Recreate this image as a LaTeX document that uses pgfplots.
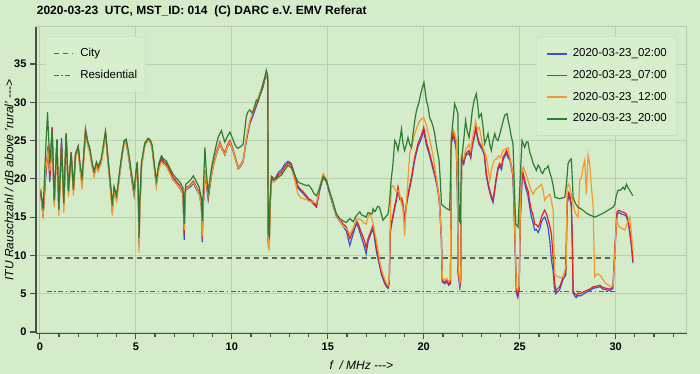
\documentclass[border=0pt]{standalone}
\usepackage{fontspec}
\setmainfont{Liberation Sans}
\usepackage{pgfplots}
\pgfplotsset{compat=1.18}
\definecolor{bg}{HTML}{D4ECC9}
\definecolor{gridc}{HTML}{B9D1B3}
\definecolor{lightspine}{HTML}{B4CBAE}
\definecolor{spine}{HTML}{4A4F4A}
\definecolor{refc}{HTML}{5A645A}
\definecolor{legbg}{HTML}{D8EFCE}
\definecolor{legdraw}{HTML}{C0D8B9}
\definecolor{cblue}{RGB}{60,80,215}
\definecolor{cred}{RGB}{232,32,32}
\definecolor{corange}{RGB}{242,154,46}
\definecolor{cgreen}{RGB}{47,125,50}
\begin{document}
\begin{tikzpicture}
\path[use as bounding box, fill=bg] (-36pt,-40.7pt) rectangle (664pt,333.3pt);
\pgfplotsset{base/.style={scale only axis, width=650.7pt, height=306.6pt,
  xmin=-0.2, xmax=33.7, ymin=-0.17, ymax=39.87,
  xtick={0,5,...,30}, ytick={0,5,...,35}}}
\begin{axis}[base,
  axis line style={draw=lightspine, line width=0.8pt},
  grid=major, grid style={draw=gridc, line width=0.8pt},
  xticklabels={}, yticklabels={}, major tick length=0pt,
  legend image code/.code={\draw[#1] (0pt,0pt) -- (19pt,0pt);},
  legend cell align=left,
  legend style={at={(0,1)}, anchor=north west, xshift=9pt, yshift=-10pt,
    fill=legbg, draw=legdraw, rounded corners=2pt,
    font=\fontsize{11.5}{13}\selectfont,
    nodes={inner sep=0pt, text height=8.3pt, text depth=2.4pt},
    row sep=11pt, column sep=7pt, inner xsep=8pt, inner ysep=11.5pt}]
\addplot[refc, line width=1.1pt, dash pattern=on 5pt off 4pt] coordinates {(0.35,9.66) (30,9.66)};
\addlegendentry{City}
\addplot[refc, line width=1.1pt, dash pattern=on 5pt off 2.5pt on 1.5pt off 2.5pt] coordinates {(0.35,5.26) (30,5.26)};
\addlegendentry{Residential}
\end{axis}
\begin{axis}[base,
  axis x line*=bottom, axis y line*=left,
  axis line style={draw=spine, line width=1.4pt},
  tick align=outside, major tick length=6pt, minor tick length=3.5pt,
  tick style={draw=spine, line width=1.2pt},
  minor xtick={1,2,3,4,6,7,8,9,11,12,13,14,16,17,18,19,21,22,23,24,26,27,28,29,31,32,33},
  ticklabel style={font=\bfseries\fontsize{11}{13}\selectfont},
  /pgf/number format/assume math mode=true,
  title={2020-03-23\ \ UTC, MST\_ID: 014\ \ (C) DARC e.V. EMV Referat},
  title style={at={(0,1)}, anchor=base west, xshift=0.7pt, yshift=6pt, inner sep=0pt,
    font=\bfseries\fontsize{12}{14}\selectfont},
  xlabel={f\ \ / MHz -\kern0pt-\kern0pt->},
  ylabel={ITU Rauschzahl / dB above 'rural' -\kern0pt-\kern0pt->},
  every axis x label/.style={at={(rel axis cs:0.5,0)}, anchor=base, yshift=-36pt,
    font=\itshape\fontsize{12}{14}\selectfont},
  every axis y label/.style={at={(rel axis cs:0,0.5)}, xshift=-27pt, rotate=90, anchor=center,
    font=\itshape\fontsize{12}{14}\selectfont},
  legend image code/.code={\draw[#1, line width=1.6pt] (0pt,0pt) -- (20pt,0pt);},
  legend cell align=left,
  legend style={at={(1,1)}, anchor=north east, xshift=-9.7pt, yshift=-10pt,
    fill=legbg, draw=legdraw, rounded corners=2pt,
    font=\fontsize{11.5}{13}\selectfont,
    nodes={inner sep=0pt, text height=8.3pt, text depth=2.4pt},
    row sep=11pt, column sep=5pt, inner xsep=10pt, inner ysep=11.5pt}]
\addplot[cblue, line width=1.2pt] table {
x y
0.05 18.0
0.12 16.3
0.17 15.3
0.3 20.0
0.43 24.0
0.52 19.6
0.64 26.8
0.75 17.0
0.89 25.0
0.99 16.0
1.13 25.3
1.25 16.8
1.37 25.6
1.49 18.4
1.63 23.3
1.75 18.8
1.86 23.0
2.0 24.0
2.1 21.3
2.2 19.5
2.38 26.2
2.5 24.5
2.6 23.6
2.72 21.8
2.83 20.5
2.95 21.8
3.04 21.1
3.2 22.2
3.42 25.8
3.6 21.0
3.73 17.8
3.77 16.0
3.87 18.5
4.0 17.6
4.17 20.8
4.3 23.3
4.4 24.8
4.5 24.6
4.6 23.3
4.69 21.6
4.8 19.6
4.91 17.8
5.0 20.2
5.07 21.8
5.14 16.5
5.17 11.2
5.2 15.5
5.3 21.8
5.47 24.4
5.64 25.0
5.75 24.8
5.85 24.0
5.95 21.8
6.07 19.2
6.2 21.6
6.33 22.5
6.45 22.0
6.6 21.7
6.75 21.0
6.94 19.9
7.1 19.4
7.29 18.8
7.46 18.0
7.52 12.0
7.56 17.2
7.6 18.6
7.75 18.8
7.86 19.0
8.0 19.4
8.16 18.6
8.3 18.0
8.42 16.4
8.46 11.7
8.5 15.5
8.6 20.8
8.77 17.3
8.94 20.4
9.05 21.8
9.2 23.2
9.38 24.5
9.5 23.8
9.64 23.1
9.78 24.2
9.9 24.7
10.05 23.7
10.16 22.8
10.33 21.3
10.45 21.6
10.59 22.2
10.76 25.0
10.94 27.2
11.1 28.2
11.28 29.5
11.45 30.8
11.63 32.0
11.8 33.8
11.87 32.8
11.9 11.6
11.95 11.5
12.0 17
12.07 20.0
12.2 19.8
12.33 20.4
12.45 20.9
12.59 21.2
12.76 21.9
12.93 22.3
13.1 22.0
13.28 20.5
13.45 18.8
13.6 18.4
13.75 18.0
13.89 17.6
14.0 17.2
14.15 17.0
14.3 16.6
14.41 16.3
14.58 18.5
14.76 20.2
14.93 19.6
15.1 18.0
15.28 16.4
15.45 15.1
15.62 14.5
15.8 13.8
15.97 13.2
16.06 12.2
16.15 11.3
16.32 12.8
16.49 14.2
16.6 13.6
16.75 12.4
16.9 11.2
17.0 10.2
17.1 11.8
17.19 12.5
17.36 13.5
17.45 12.0
17.53 10.6
17.63 9.4
17.71 8.5
17.8 7.5
17.88 6.9
17.97 6.3
18.06 5.9
18.14 5.7
18.2 6.3
18.26 13.0
18.35 14.4
18.49 16.2
18.58 17.2
18.66 18.7
18.75 17.3
18.85 17.2
18.92 16.4
19.0 14.2
19.08 16.2
19.18 17.7
19.36 19.9
19.53 22.5
19.7 24.2
19.88 25.3
20.0 26.3
20.14 24.4
20.31 23.0
20.49 21.2
20.66 19.5
20.75 18.2
20.83 16.4
20.92 12.0
20.97 6.5
21.05 6.4
21.1 6.3
21.2 6.6
21.3 6.1
21.39 6.3
21.42 15
21.44 24.6
21.53 25.6
21.62 24.8
21.7 23.7
21.76 17.5
21.79 7.6
21.88 5.8
21.93 6.8
21.97 22.4
22.08 21.9
22.18 23.0
22.36 23.4
22.45 22.7
22.53 24.3
22.62 25.2
22.7 26.6
22.8 25.3
22.88 24.5
23.05 23.8
23.15 23.2
23.26 20.4
23.35 19.2
23.44 18.2
23.52 17.5
23.61 16.9
23.7 18.5
23.78 19.9
23.87 21.2
23.96 21.7
24.05 21.2
24.13 22.5
24.22 22.9
24.31 23.4
24.4 22.7
24.48 22.5
24.56 21.5
24.65 20.3
24.74 12.8
24.83 5.0
24.9 4.5
24.97 5.5
25.03 14.6
25.14 20.8
25.2 20.2
25.26 19.4
25.35 18.5
25.43 17.8
25.52 16.3
25.61 15.0
25.7 14.2
25.78 13.3
25.87 13.4
25.96 13.0
26.05 13.5
26.13 14.4
26.22 14.8
26.3 15.0
26.4 14.4
26.48 13.6
26.57 11.8
26.65 9.5
26.74 8.0
26.8 6.0
26.87 5.0
26.95 5.2
27.08 5.5
27.17 6.2
27.26 6.9
27.4 7.4
27.47 16.6
27.55 17.8
27.6 17.6
27.69 16.3
27.74 11.5
27.78 5.1
27.87 4.7
27.95 4.5
28.05 4.8
28.13 4.7
28.3 4.9
28.47 5.2
28.65 5.4
28.82 5.7
29.0 5.8
29.17 5.9
29.35 5.6
29.51 5.5
29.7 5.4
29.86 5.7
29.95 10.4
30.07 15.4
30.18 15.6
30.3 15.4
30.45 15.3
30.56 15.1
30.65 14.2
30.73 13.0
30.82 11.2
30.9 9.0
};
\addlegendentry{2020-03-23\_02:00}
\addplot[cred, line width=1.2pt] table {
x y
0.05 18.2
0.12 16.5
0.17 15.0
0.3 20.5
0.43 24.3
0.52 20.2
0.64 26.6
0.75 16.8
0.89 25.2
0.99 15.8
1.13 24.6
1.25 16.5
1.37 26.0
1.49 18.2
1.63 23.5
1.75 18.5
1.86 23.3
2.0 24.3
2.1 21.5
2.2 19.8
2.38 26.5
2.5 24.8
2.6 23.9
2.72 22.0
2.83 20.7
2.95 22.0
3.04 21.3
3.2 22.4
3.42 26.1
3.6 21.2
3.73 17.6
3.77 15.6
3.87 18.7
4.0 17.4
4.17 21.0
4.3 23.5
4.4 25.0
4.5 25.0
4.6 23.6
4.69 22.0
4.8 20.0
4.91 18.2
5.0 20.5
5.07 22.0
5.14 17
5.17 11.8
5.2 16
5.3 22.0
5.47 24.6
5.64 25.2
5.75 25.0
5.85 24.2
5.95 22.0
6.07 19.4
6.2 21.8
6.33 22.8
6.45 22.3
6.6 22.0
6.75 21.2
6.94 20.2
7.1 19.7
7.29 19.1
7.46 18.3
7.52 12.8
7.56 17.5
7.6 18.9
7.75 19.0
7.86 19.3
8.0 19.7
8.16 18.9
8.3 18.2
8.42 16.7
8.46 12.3
8.5 16
8.6 21.1
8.77 17.6
8.94 20.7
9.05 22.0
9.2 23.5
9.38 24.8
9.5 24.0
9.64 23.4
9.78 24.5
9.9 25.0
10.05 24.0
10.16 23.0
10.33 21.5
10.45 21.8
10.59 22.4
10.76 25.2
10.94 27.4
11.1 28.5
11.28 29.8
11.45 31.0
11.63 32.2
11.8 34.0
11.87 33.0
11.9 11.8
11.95 11.4
12.0 17
12.07 20.3
12.2 20.0
12.33 20.2
12.45 20.6
12.59 20.9
12.76 21.6
12.93 22.1
13.1 21.8
13.28 20.3
13.45 19.0
13.6 18.6
13.75 18.2
13.89 17.8
14.0 17.4
14.15 17.2
14.3 16.8
14.41 16.5
14.58 18.7
14.76 20.4
14.93 19.8
15.1 18.3
15.28 16.7
15.45 15.4
15.62 14.8
15.8 14.1
15.97 13.7
16.06 13.0
16.15 12.2
16.32 13.3
16.49 14.6
16.6 14.0
16.75 13.0
16.9 12.0
17.0 11.0
17.1 12.2
17.19 12.8
17.36 13.9
17.45 12.5
17.53 11.1
17.63 9.8
17.71 8.9
17.8 7.8
17.88 7.2
17.97 6.6
18.06 6.1
18.14 5.9
18.2 6.5
18.26 13.5
18.35 14.6
18.49 16.5
18.58 17.5
18.66 18.9
18.75 17.6
18.85 17.5
18.92 16.7
19.0 14.5
19.08 16.5
19.18 18.0
19.36 20.2
19.53 22.8
19.7 24.6
19.88 25.7
20.0 26.7
20.14 24.8
20.31 23.3
20.49 21.5
20.66 19.8
20.75 18.5
20.83 16.7
20.92 12.4
20.97 6.7
21.05 6.6
21.1 6.5
21.2 6.8
21.3 6.3
21.39 6.5
21.42 15
21.44 25.0
21.53 26.0
21.62 25.2
21.7 24.1
21.76 18
21.79 8.0
21.88 6.1
21.93 7.0
21.97 22.8
22.08 22.2
22.18 23.3
22.36 23.7
22.45 23.0
22.53 24.6
22.62 25.5
22.7 27.0
22.8 25.6
22.88 24.8
23.05 24.1
23.15 23.5
23.26 20.7
23.35 19.5
23.44 18.5
23.52 17.8
23.61 17.2
23.7 18.8
23.78 20.2
23.87 21.5
23.96 22.0
24.05 21.5
24.13 22.8
24.22 23.2
24.31 23.7
24.4 23.0
24.48 22.8
24.56 21.8
24.65 20.7
24.74 13.3
24.83 5.4
24.9 4.9
24.97 5.9
25.03 15.0
25.14 21.1
25.2 20.5
25.26 19.8
25.35 19.0
25.43 18.5
25.52 17.0
25.61 15.9
25.7 15.2
25.78 14.1
25.87 14.0
25.96 13.7
26.05 14.2
26.13 15.0
26.22 15.5
26.3 15.9
26.4 15.4
26.48 14.6
26.57 13.8
26.65 12.8
26.74 9.8
26.8 7.0
26.87 5.4
26.95 5.6
27.08 5.9
27.17 6.5
27.26 7.2
27.4 7.8
27.47 17.0
27.55 18.2
27.6 18.0
27.69 16.7
27.74 12
27.78 5.4
27.87 5.0
27.95 4.8
28.05 5.1
28.13 5.0
28.3 5.2
28.47 5.4
28.65 5.6
28.82 5.9
29.0 6.0
29.17 6.1
29.35 5.8
29.51 5.7
29.7 5.6
29.86 5.9
29.95 10.7
30.07 15.7
30.18 15.9
30.3 15.7
30.45 15.6
30.56 15.4
30.65 14.5
30.73 13.3
30.82 11.5
30.9 9.3
};
\addlegendentry{2020-03-23\_07:00}
\addplot[corange, line width=1.2pt] table {
x y
0.05 18.8
0.12 16.0
0.17 15.2
0.3 21
0.43 23.6
0.52 21.0
0.64 25.8
0.75 16.3
0.89 24.5
0.99 15.2
1.13 24.0
1.25 15.6
1.37 25.2
1.49 17.6
1.63 23.0
1.75 17.8
1.86 22.8
2.0 23.8
2.1 21.0
2.2 18.6
2.38 25.8
2.5 24.3
2.6 23.5
2.72 21.5
2.83 20.3
2.95 21.6
3.04 21.0
3.2 22.0
3.42 25.6
3.6 20.8
3.73 17.0
3.77 15.2
3.87 18.2
4.0 17.0
4.17 20.6
4.3 23.2
4.4 24.6
4.5 24.8
4.6 23.3
4.69 21.8
4.8 19.8
4.91 18.0
5.0 20.2
5.07 21.6
5.14 15.5
5.17 10.4
5.2 15.0
5.3 21.6
5.47 24.4
5.64 25.0
5.75 24.8
5.85 24.0
5.95 21.6
6.07 19.0
6.2 21.2
6.33 22.2
6.45 21.9
6.6 21.6
6.75 20.8
6.94 19.8
7.1 19.4
7.29 18.9
7.46 18.0
7.52 13.3
7.56 17.3
7.6 18.7
7.75 18.9
7.86 19.2
8.0 19.5
8.16 18.8
8.3 18.0
8.42 16.5
8.46 12.5
8.5 16.2
8.6 21.0
8.77 17.8
8.94 20.5
9.05 21.8
9.2 23.3
9.38 24.6
9.5 23.8
9.64 23.2
9.78 24.3
9.9 24.8
10.05 23.8
10.16 22.8
10.33 21.4
10.45 21.7
10.59 22.3
10.76 25.4
10.94 27.6
11.1 28.7
11.28 30.0
11.45 31.2
11.63 32.4
11.8 33.9
11.87 33.2
11.9 11.0
11.95 10.8
12.0 16
12.07 19.6
12.2 19.6
12.33 19.9
12.45 20.2
12.59 20.6
12.76 21.2
12.93 21.7
13.1 21.4
13.28 19.8
13.45 18.0
13.6 17.5
13.75 17.4
13.89 17.3
14.0 17.1
14.15 17.0
14.3 16.9
14.41 16.8
14.58 19.0
14.76 20.7
14.93 20.0
15.1 18.2
15.28 16.5
15.45 15.2
15.62 14.6
15.8 13.8
15.97 13.5
16.06 13.2
16.15 12.8
16.32 13.5
16.49 14.6
16.6 14.8
16.75 14.6
16.9 14.2
17.0 14.1
17.1 15.0
17.19 15.5
17.3 14.8
17.36 14.2
17.45 13.0
17.53 12.0
17.63 10.5
17.71 9.2
17.8 8.2
17.88 7.5
17.97 6.9
18.06 6.3
18.14 6.1
18.2 6.8
18.26 14.5
18.3 18.9
18.4 19.1
18.49 18.7
18.58 18.3
18.66 18.5
18.75 18.0
18.8 17.2
18.92 16.0
19.0 12.6
19.1 17.0
19.27 23.3
19.4 24.5
19.53 25.9
19.66 26.8
19.79 27.6
19.9 27.8
20.0 28.0
20.14 27.0
20.27 25.5
20.4 24.1
20.5 22.8
20.6 21.1
20.7 19.5
20.8 17.5
20.92 12.4
20.97 7.0
21.05 6.9
21.1 6.8
21.2 7.0
21.3 6.6
21.39 6.8
21.42 15.5
21.44 25.5
21.53 26.5
21.62 25.8
21.7 25.0
21.76 18.5
21.79 8.5
21.88 6.5
21.93 7.3
21.97 23.0
22.08 22.6
22.18 23.8
22.36 24.5
22.45 23.8
22.53 25.2
22.62 26.3
22.7 27.5
22.8 26.5
22.9 26.7
23.0 25.3
23.09 24.0
23.17 23.5
23.26 22.8
23.35 21.5
23.44 19.8
23.52 21.0
23.61 22.0
23.7 22.5
23.8 22.6
23.9 23.0
24.0 22.8
24.13 23.7
24.25 23.9
24.4 24.1
24.48 22.8
24.56 21.8
24.68 20.2
24.74 13.5
24.83 5.8
24.9 5.5
24.97 6.0
25.03 16.0
25.09 20.7
25.2 21.5
25.3 20.8
25.43 19.8
25.55 18.8
25.69 18.0
25.8 18.5
25.96 18.9
26.05 19.1
26.13 19.3
26.22 18.5
26.3 17.2
26.4 17.6
26.57 18.0
26.65 17.2
26.74 15.9
26.78 11.5
26.82 7.6
26.9 7.4
27.0 7.2
27.13 7.1
27.26 7.2
27.35 8.0
27.43 8.9
27.47 18.9
27.55 19.3
27.6 18.9
27.69 18.0
27.78 16.7
27.9 15.5
28.04 15.0
28.13 19.8
28.22 20.2
28.3 21.5
28.39 22.4
28.47 18.0
28.56 23.1
28.65 21.9
28.73 19.0
28.82 16.7
28.87 11
28.91 7.2
29.0 7.5
29.08 7.6
29.17 7.4
29.25 7.2
29.38 6.7
29.51 6.3
29.7 6.0
29.86 5.9
29.95 10.0
30.04 14.6
30.12 14.0
30.2 13.7
30.35 13.5
30.47 13.3
30.6 14.2
30.73 15.0
30.82 12.8
30.9 10.7
};
\addlegendentry{2020-03-23\_12:00}
\addplot[cgreen, line width=1.2pt] table {
x y
0.05 18.5
0.12 17.0
0.17 16.0
0.3 23.5
0.4 28.7
0.52 22.0
0.64 26.2
0.75 17.2
0.89 25.0
0.99 16.0
1.13 24.4
1.25 16.8
1.37 25.8
1.49 18.4
1.63 23.4
1.75 18.6
1.86 23.2
2.0 24.2
2.1 21.8
2.2 20.2
2.38 26.2
2.5 24.8
2.6 24.0
2.72 22.2
2.83 21.0
2.95 22.2
3.04 21.6
3.2 22.6
3.42 26.2
3.6 21.4
3.73 18.0
3.77 16.5
3.87 19.0
4.0 17.8
4.17 21.3
4.3 23.6
4.4 25.0
4.5 25.2
4.6 23.8
4.69 22.3
4.8 20.3
4.91 18.5
5.0 20.8
5.07 22.2
5.14 17.5
5.17 12.3
5.2 16.5
5.3 22.2
5.47 24.7
5.64 25.3
5.75 25.1
5.85 24.4
5.95 22.2
6.07 19.8
6.2 22.0
6.33 23.0
6.45 22.6
6.6 22.3
6.75 21.5
6.94 20.6
7.1 20.1
7.29 19.6
7.46 18.8
7.52 14.1
7.56 18.0
7.6 19.3
7.75 19.6
7.86 19.9
8.0 20.4
8.16 19.6
8.3 18.9
8.42 17.4
8.46 14.5
8.5 17.5
8.6 24.1
8.67 21.0
8.77 18.2
8.94 21.4
9.05 22.8
9.2 24.5
9.3 25.5
9.46 26.3
9.55 25.5
9.64 24.8
9.78 25.6
9.9 26.1
10.05 25.2
10.16 24.5
10.25 24.1
10.33 24.0
10.45 24.2
10.59 24.5
10.76 28.2
10.85 28.8
10.94 29.0
11.05 28.6
11.1 28.8
11.2 29.6
11.28 30.3
11.37 30.1
11.45 30.8
11.55 31.6
11.63 32.5
11.72 33.2
11.8 34.2
11.87 33.5
11.9 13.0
11.95 12.5
12.0 17.5
12.07 20.3
12.2 20.0
12.33 20.0
12.45 20.3
12.59 20.5
12.76 21.2
12.93 21.8
13.1 21.5
13.28 20.5
13.45 19.6
13.6 19.4
13.71 19.3
13.89 19.1
14.0 19.2
14.15 18.7
14.3 18.0
14.41 17.8
14.58 18.8
14.76 20.3
14.93 19.8
15.1 18.3
15.28 16.9
15.45 15.4
15.62 14.8
15.8 14.5
15.97 14.3
16.06 14.6
16.15 14.8
16.32 14.4
16.49 15.2
16.67 15.7
16.75 15.3
16.85 15.2
17.0 15.0
17.1 15.6
17.19 15.5
17.3 15.4
17.36 16.1
17.45 15.7
17.5 15.9
17.6 16.4
17.7 16.3
17.8 15.3
17.88 14.6
18.0 15.0
18.14 15.4
18.22 17.0
18.3 19.8
18.4 22.0
18.49 25.0
18.57 24.6
18.66 23.7
18.75 25.0
18.84 26.5
18.92 24.6
19.0 23.7
19.1 24.5
19.18 25.4
19.27 24.5
19.36 24.1
19.45 26.0
19.53 27.6
19.62 28.9
19.75 30.0
19.88 31.5
20.01 32.6
20.07 31.5
20.14 30.2
20.22 29.5
20.31 28.0
20.4 27.5
20.49 26.8
20.57 25.9
20.68 24.0
20.8 22.4
20.87 19.5
20.92 16.7
21.0 16.5
21.1 16.3
21.2 16.1
21.35 15.9
21.44 25.4
21.52 27.5
21.61 29.8
21.7 29.2
21.78 28.5
21.84 14.6
21.9 14.3
21.97 22.4
22.08 25.0
22.18 27.6
22.27 26.2
22.36 25.4
22.45 27.0
22.53 28.9
22.62 30.2
22.74 31.1
22.82 29.5
22.88 28.0
23.0 28.5
23.08 27.0
23.17 24.6
23.26 25.2
23.35 25.9
23.44 24.5
23.52 23.7
23.61 25.0
23.7 25.9
23.78 25.2
23.87 25.0
23.96 25.8
24.05 26.7
24.13 27.5
24.22 28.3
24.34 28.5
24.4 27.6
24.48 26.7
24.56 25.5
24.65 24.6
24.72 19
24.79 14.1
24.91 13.7
25.0 18.5
25.06 22
25.12 25.0
25.2 24.5
25.26 24.1
25.35 24.8
25.43 24.8
25.52 23.5
25.61 22.8
25.7 22.0
25.78 21.6
25.87 21.1
25.96 21.8
26.04 21.5
26.12 20.9
26.2 20.7
26.3 21.3
26.4 21.4
26.48 21.7
26.57 20.8
26.65 20.2
26.75 19.0
26.84 17.6
26.95 17.5
27.08 17.4
27.2 17.5
27.35 17.6
27.44 19.5
27.52 22.0
27.6 22.4
27.69 22.6
27.74 20.0
27.78 17.6
27.9 16.8
28.04 16.3
28.17 16.1
28.3 15.9
28.43 15.6
28.56 15.4
28.73 15.2
28.91 15.0
29.08 15.2
29.25 15.4
29.42 15.6
29.6 15.9
29.73 16.1
29.86 16.3
29.95 16.6
30.03 17.8
30.12 18.5
30.25 18.5
30.38 18.9
30.47 18.6
30.56 19.3
30.65 18.8
30.73 18.5
30.82 18.1
30.9 17.8
};
\addlegendentry{2020-03-23\_20:00}
\end{axis}
\end{tikzpicture}
\end{document}
